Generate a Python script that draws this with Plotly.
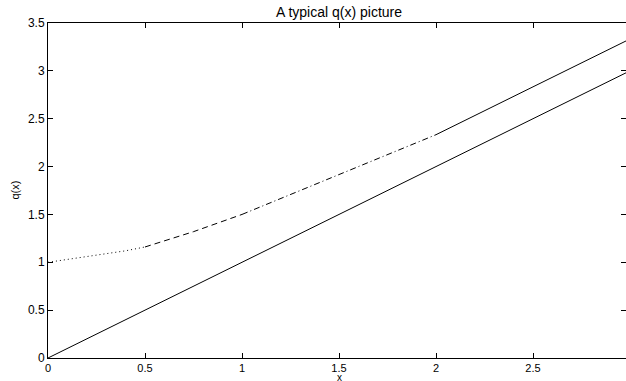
import plotly.graph_objects as go

# Reference line q = x
line_x = [0.0, 3.0]
line_y = [0.0, 3.0]

# Upper curve q(x), in four styled pieces
dot_x = [0.0, 0.1, 0.2, 0.3, 0.4, 0.5]
dot_y = [1.0, 1.03, 1.06, 1.09, 1.12, 1.16]
dash_x = [0.5, 0.75, 1.0]
dash_y = [1.16, 1.32, 1.5]
dashdot_x = [1.0, 1.5, 2.0]
dashdot_y = [1.5, 1.92, 2.333]
solid_x = [2.0, 3.0]
solid_y = [2.333, 3.333]

x_ticks = [0, 0.5, 1, 1.5, 2, 2.5]
y_ticks = [0, 0.5, 1, 1.5, 2, 2.5, 3, 3.5]

W, H = 626, 381
L, T, B = 48, 23, 23
R = 0
# x = 3 sits 4 px beyond the window edge
x_max = 3.0 * (W - L - R) / (630 - L)
PW = W - L - R
PH = H - T - B

FONT = "Liberation Sans, Arial, Helvetica, sans-serif"
fig = go.Figure()
common = dict(mode="lines", showlegend=False, hoverinfo="skip")
fig.add_trace(go.Scatter(x=line_x, y=line_y, line=dict(color="black", width=1), **common))
fig.add_trace(go.Scatter(x=dot_x, y=dot_y, line=dict(color="black", width=1, dash="1px,3px"), **common))
fig.add_trace(go.Scatter(x=dash_x, y=dash_y, line=dict(color="black", width=1, dash="6px,4px"), **common))
fig.add_trace(go.Scatter(x=dashdot_x, y=dashdot_y, line=dict(color="black", width=1, dash="6px,3px,1px,3px"), **common))
fig.add_trace(go.Scatter(x=solid_x, y=solid_y, line=dict(color="black", width=1), **common))
# invisible trace on a right axis so its ticks are drawn at the window edge
fig.add_trace(go.Scatter(x=[0], y=[0], yaxis="y2", mode="markers", marker=dict(opacity=0),
                         showlegend=False, hoverinfo="skip"))

fig.update_layout(
    width=W, height=H,
    margin=dict(l=L, r=R, t=T, b=B, pad=0),
    paper_bgcolor="white", plot_bgcolor="white",
    font=dict(family=FONT, size=11, color="black"),
    title=dict(text="A typical q(x) picture", x=(L + 630) / 2 / W, xanchor="center",
               y=1 - 12 / H, yanchor="middle", yref="container",
               font=dict(family=FONT, size=14, color="black")),
    xaxis=dict(range=[0, x_max], tickvals=x_ticks, ticktext=[f"{v:g}" for v in x_ticks],
               ticks="inside", ticklen=5, tickcolor="black", tickwidth=1,
               showline=True, linecolor="black", linewidth=1, mirror="ticks",
               showgrid=False, zeroline=False, automargin=False,
               tickfont=dict(size=11)),
    yaxis=dict(range=[0, 3.5], tickvals=y_ticks, ticktext=[f"{v:g}" for v in y_ticks],
               ticks="inside", ticklen=5, tickcolor="black", tickwidth=1,
               showline=True, linecolor="black", linewidth=1, mirror="ticks",
               showgrid=False, zeroline=False, automargin=False,
               tickfont=dict(size=12)),
    yaxis2=dict(range=[0, 3.5], overlaying="y", side="right", anchor="x",
                tickvals=y_ticks, showticklabels=False, ticks="inside", ticklen=2,
                tickcolor="black", showline=False, showgrid=False, zeroline=False),
    annotations=[
        dict(text="x", xref="paper", yref="paper",
             x=((L + 630) / 2 - L) / PW, y=-(H + 3 - (H - B)) / PH,
             xanchor="center", yanchor="bottom", showarrow=False, borderpad=0,
             font=dict(family=FONT, size=10, color="black")),
        dict(text="q(x)", xref="paper", yref="paper", textangle=-90,
             x=-(L - 14) / PW, y=0.5,
             xanchor="center", yanchor="middle", showarrow=False, borderpad=0,
             font=dict(family=FONT, size=11, color="black")),
    ],
)

fig.write_html("out.html")
